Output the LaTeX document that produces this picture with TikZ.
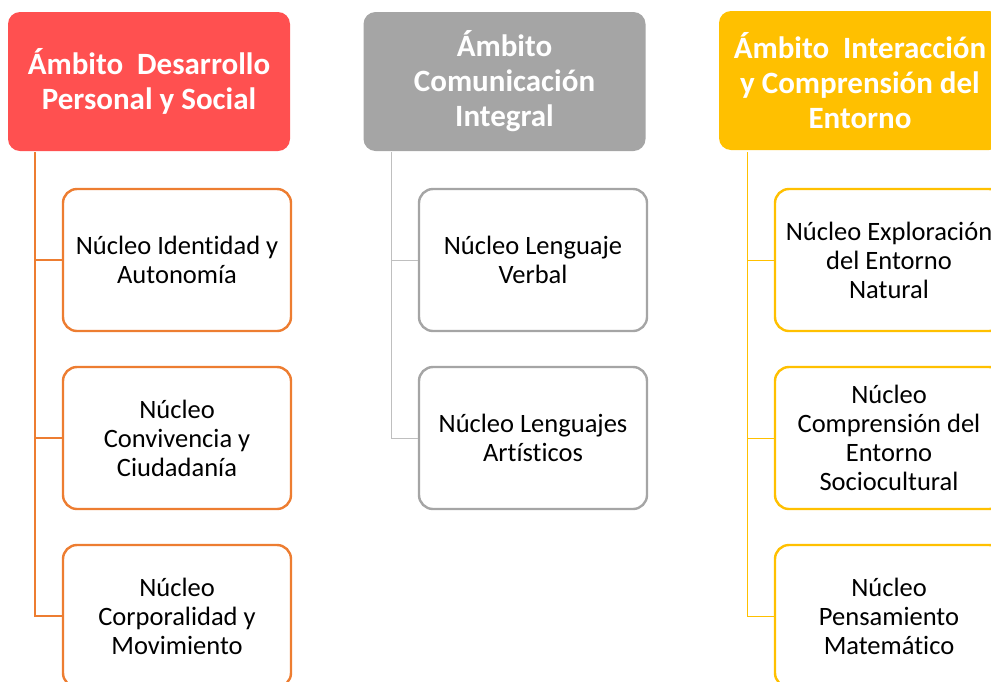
\documentclass[tikz,border=0pt]{standalone}
\usepackage{fontspec}
\setmainfont[Ligatures=CommonOff]{Carlito}
\definecolor{redhead}{HTML}{FF5050}
\definecolor{grayhead}{HTML}{A5A5A5}
\definecolor{yellowhead}{HTML}{FFC000}
\definecolor{orangeline}{HTML}{ED7D31}
\definecolor{grayline}{HTML}{BFBFBF}
\begin{document}
\begin{tikzpicture}[x=1pt,y=-1pt,
    ambito/.style={rounded corners=12pt, minimum width=282pt, minimum height=139pt,
      text=white, align=center, font=\fontsize{31}{35}\selectfont\bfseries, inner sep=0pt},
    nucleo/.style={draw, fill=white, line width=2.4pt, rounded corners=14pt, minimum width=228pt,
      minimum height=142pt, align=center, font=\fontsize{26.5}{29}\selectfont, inner sep=0pt},
  ]
  \useasboundingbox (0,0) rectangle (991,681);
  \clip (0,0) rectangle (991,681);

  \node[ambito, fill=redhead] (ds) at (149,81.5) {Ámbito\ \ Desarrollo\\Personal y Social};
  \node[ambito, fill=grayhead] (ci) at (504.5,81.5) {Ámbito\\Comunicación\\Integral};
  \node[ambito, fill=yellowhead] (ic) at (860,80.5) {Ámbito\ \ Interacción\\y Comprensión del\\Entorno};

  \coordinate (t1) at (35,152);
  \coordinate (t2) at (391,152);
  \coordinate (t3) at (747,152);

  \node[nucleo, draw=orangeline] (ia) at (177,260) {Núcleo Identidad y\\Autonomía};
  \node[nucleo, draw=orangeline] (cc) at (177,438) {Núcleo\\Convivencia y\\Ciudadanía};
  \node[nucleo, draw=orangeline] (cm) at (177,616) {Núcleo\\Corporalidad y\\Movimiento};

  \node[nucleo, draw=grayhead] (lv) at (533,260) {Núcleo Lenguaje\\Verbal};
  \node[nucleo, draw=grayhead] (la) at (533,438) {Núcleo Lenguajes\\Artísticos};

  \node[nucleo, draw=yellowhead] (en) at (889,260) {Núcleo Exploración\\del Entorno\\Natural};
  \node[nucleo, draw=yellowhead] (es) at (889,438) {Núcleo\\Comprensión del\\Entorno\\Sociocultural};
  \node[nucleo, draw=yellowhead] (pm) at (889,616) {Núcleo\\Pensamiento\\Matemático};

  \draw[orangeline, line width=2.4pt] (t1) |- (ia.west);
  \draw[orangeline, line width=2.4pt] (t1) |- (cc.west);
  \draw[orangeline, line width=2.4pt] (t1) |- (cm.west);
  \draw[grayline, line width=1pt] (t2) |- (lv.west);
  \draw[grayline, line width=1pt] (t2) |- (la.west);
  \draw[yellowhead, line width=1pt] (t3) |- (en.west);
  \draw[yellowhead, line width=1pt] (t3) |- (es.west);
  \draw[yellowhead, line width=1pt] (t3) |- (pm.west);
\end{tikzpicture}
\end{document}
